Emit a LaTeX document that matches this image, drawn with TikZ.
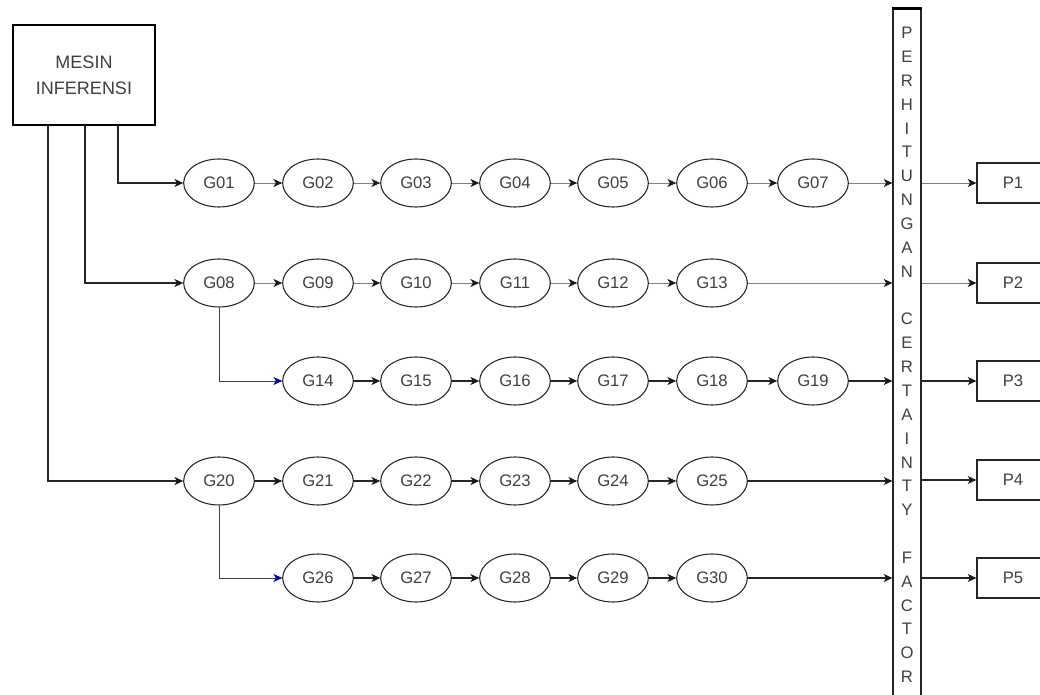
\documentclass[tikz,border=0pt]{standalone}
\usepackage{fontspec}
\setmainfont{Liberation Sans}
\usetikzlibrary{arrows.meta,shapes.geometric}
\begin{document}
\begin{tikzpicture}[x=0.75pt,y=-0.75pt,
  txt/.style={text=black!75,font=\fontsize{12.5}{14}\selectfont},
  gnode/.style={ellipse,draw=black!85,line width=0.8pt,minimum width=53pt,minimum height=36pt,inner sep=0pt,txt},
  pbox/.style={rectangle,draw=black!85,line width=0.9pt,minimum width=54pt,minimum height=30pt,inner sep=0pt,txt},
  tip/.style={-{Stealth[length=6.5pt,width=6pt,inset=1.8pt,color=black!90]}},
  lite/.style={tip,draw=black!50,line width=0.6pt},
  dark/.style={tip,draw=black!85,line width=0.8pt},
  branch/.style={-{Stealth[length=6.5pt,width=6pt,inset=1.8pt,color=blue!65!black]},draw=black!75,line width=0.7pt},
  feed/.style={draw=black!85,line width=0.9pt}]
\useasboundingbox (0,0) rectangle (1040,695);
\clip (0,0) rectangle (1040,695);

% inference engine
\node[rectangle,draw=black,line width=1.1pt,minimum width=106.5pt,minimum height=75pt,align=center,txt,
  font=\fontsize{13.5}{19.5}\selectfont] (mesin) at (84,75) {MESIN\\INFERENSI};
\coordinate (s1) at (118,125);
\coordinate (s2) at (85,125);
\coordinate (s3) at (48,125);

% certainty factor bar
\node[rectangle,draw=black!85,line width=0.9pt,minimum width=21pt,minimum height=526.5pt,inner sep=0pt] (bar) at (907,360) {};
\draw[line width=2pt] (bar.north west) -- (bar.north east);
\foreach \ch [count=\i from 0] in {P,E,R,H,I,T,U,N,G,A,N,{},C,E,R,T,A,I,N,T,Y,{},F,A,C,T,O,R}
  \node[txt,inner sep=0pt] (L\i) at (907,{33+23.85*\i}) {\ch};

% symptom nodes
\foreach \n/\x in {01/219,02/318,03/416,04/515,05/613,06/712,07/813}
  \node[gnode] (g\n) at (\x,183) {G\n};
\foreach \n/\x in {08/219,09/318,10/416,11/515,12/613,13/712}
  \node[gnode] (g\n) at (\x,283) {G\n};
\foreach \n/\x in {14/318,15/416,16/515,17/613,18/712,19/813}
  \node[gnode] (g\n) at (\x,381) {G\n};
\foreach \n/\x in {20/219,21/318,22/416,23/515,24/613,25/712}
  \node[gnode] (g\n) at (\x,481) {G\n};
\foreach \n/\x in {26/318,27/416,28/515,29/613,30/712}
  \node[gnode] (g\n) at (\x,578) {G\n};

% results
\node[pbox] (p1) at (1013,183) {P1};
\node[pbox] (p2) at (1013,283) {P2};
\node[pbox] (p3) at (1013,381) {P3};
\node[pbox] (p4) at (1013,480) {P4};
\node[pbox] (p5) at (1013,578) {P5};

% feeds from the inference engine
\draw[feed,tip] (s1) |- (g01.west);
\draw[feed,tip] (s2) |- (g08.west);
\draw[feed,tip] (s3) |- (g20.west);
\draw[branch] (g08.south) |- (g14.west);
\draw[branch] (g20.south) |- (g26.west);

% chains
\foreach \a/\b in {01/02,02/03,03/04,04/05,05/06,06/07,08/09,09/10,10/11,11/12,12/13}
  \draw[lite] (g\a.east) -- (g\b.west);
\foreach \a/\b in {14/15,15/16,16/17,17/18,18/19,20/21,21/22,22/23,23/24,24/25,26/27,27/28,28/29,29/30}
  \draw[dark] (g\a.east) -- (g\b.west);

% into the bar
\draw[lite] (g07.east) -- (g07.east -| bar.west);
\draw[lite] (g13.east) -- (g13.east -| bar.west);
\draw[dark] (g19.east) -- (g19.east -| bar.west);
\draw[dark] (g25.east) -- (g25.east -| bar.west);
\draw[dark] (g30.east) -- (g30.east -| bar.west);

% out of the bar
\draw[lite] (bar.east |- p1.west) -- (p1.west);
\draw[lite] (bar.east |- p2.west) -- (p2.west);
\draw[dark] (bar.east |- p3.west) -- (p3.west);
\draw[dark] (bar.east |- p4.west) -- (p4.west);
\draw[dark] (bar.east |- p5.west) -- (p5.west);
\end{tikzpicture}
\end{document}
